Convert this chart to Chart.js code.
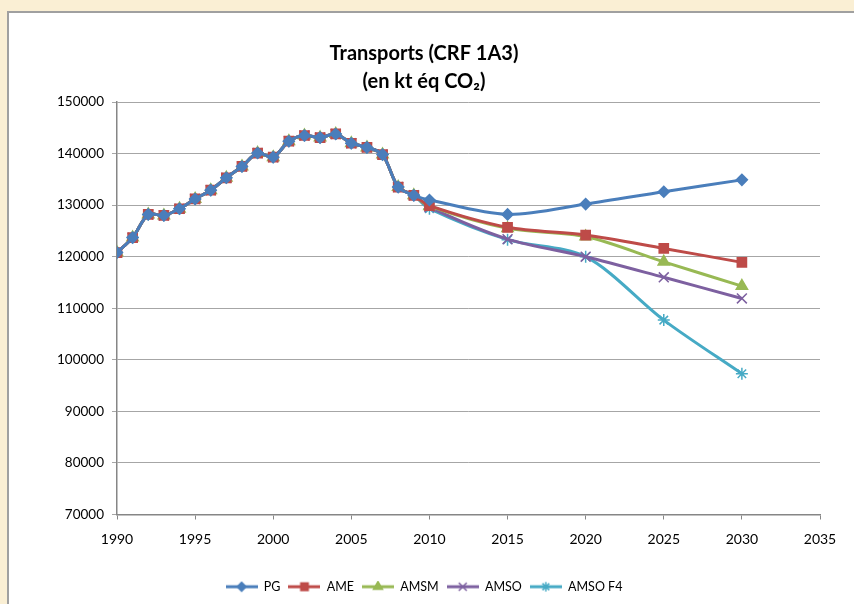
<!DOCTYPE html>
<html>
<head>
<meta charset="utf-8">
<script src="https://cdn.jsdelivr.net/npm/chart.js@4/dist/chart.umd.min.js"></script>
<style>
html,body{margin:0;padding:0;background:#FAEFD4;}
#wrap{position:absolute;left:0;top:0;width:854px;height:604px;}
</style>
</head>
<body>
<div id="wrap"><canvas id="c" width="854" height="604"></canvas></div>
<script>
const histYears = [1990,1991,1992,1993,1994,1995,1996,1997,1998,1999,2000,2001,2002,2003,2004,2005,2006,2007,2008,2009];
const histValues = [120800,123700,128200,128000,129300,131200,132900,135300,137500,140100,139300,142400,143500,143100,143800,142000,141200,139800,133500,131900];
const projYears = [2010,2015,2020,2025,2030];
const pgValues = [131000,128200,130200,132600,134900];
const ameValues = [129900,125700,124200,121600,118900];
const amsmValues = [129800,125500,123900,119000,114300];
const amsoValues = [129600,123400,120000,116000,111900];
const amsoF4Values = [129300,123300,120000,107700,97300];
const seriesNames = ['PG','AME','AMSM','AMSO','AMSO F4'];
const xTicks = [1990,1995,2000,2005,2010,2015,2020,2025,2030,2035];

const colors = ['#4A7EBB','#BE4B48','#98B954','#7D60A0','#46AAC5'];
const styles = ['rectRot','rect','triangle','crossRot','star'];
const radii = [5.5,6.5,6.5,7,6];
const projections = [pgValues,ameValues,amsmValues,amsoValues,amsoF4Values];

function buildData(proj){
  const pts = histYears.map((y,i)=>({x:y,y:histValues[i]}));
  projYears.forEach((y,i)=>pts.push({x:y,y:proj[i]}));
  return pts;
}

function legendIcon(i){
  const cv = document.createElement('canvas');
  cv.width = 32; cv.height = 12;
  const ctx = cv.getContext('2d');
  ctx.strokeStyle = colors[i]; ctx.fillStyle = colors[i]; ctx.lineWidth = 3;
  ctx.beginPath(); ctx.moveTo(0,6); ctx.lineTo(32,6); ctx.stroke();
  ctx.lineWidth = 1.5;
  Chart.helpers.drawPoint(ctx,{pointStyle:styles[i],radius:radii[i]*0.8,borderWidth:1.5,rotation:0},16,6);
  ctx.fill();
  return cv;
}

const datasets = seriesNames.map((n,i)=>({
  label:n,
  data:buildData(projections[i]),
  borderColor:colors[i],
  backgroundColor:colors[i],
  borderWidth:3,
  pointStyle:styles[i],
  pointRadius:radii[i],
  pointBorderWidth:1.5,
  pointBorderColor:colors[i],
  pointBackgroundColor:colors[i],
  tension:0.3,
  fill:false
}));

const bgPlugin = {
  id:'bg',
  beforeDraw(chart){
    const ctx = chart.ctx;
    ctx.save();
    ctx.fillStyle = '#FAEFD4';
    ctx.fillRect(0,0,854,604);
    ctx.fillStyle = '#FFFFFF';
    ctx.fillRect(8,12,846,592);
    ctx.strokeStyle = '#A0A0A0';
    ctx.lineWidth = 2;
    ctx.beginPath();
    ctx.moveTo(8,604); ctx.lineTo(8,12); ctx.lineTo(854,12);
    ctx.stroke();
    ctx.restore();
  }
};

const icons = seriesNames.map((n,i)=>legendIcon(i));

new Chart(document.getElementById('c'),{
  type:'line',
  data:{datasets},
  plugins:[bgPlugin],
  options:{
    responsive:false,
    animation:false,
    layout:{padding:{left:28,right:34,top:11,bottom:1}},
    plugins:{
      title:{
        display:true,
        text:['Transports (CRF 1A3)','(en kt éq CO₂)'],
        color:'#000',
        font:{family:'Lato',size:20,weight:'bold',lineHeight:1.4},
        padding:{top:29,bottom:6}
      },
      legend:{
        position:'bottom',
        labels:{
          color:'#000',
          font:{family:'Lato',size:12.5},
          usePointStyle:true,
          pointStyleWidth:32,
          boxHeight:12,
          padding:8,
          generateLabels(chart){
            return seriesNames.map((n,i)=>({
              text:n, pointStyle:icons[i], fillStyle:colors[i], strokeStyle:colors[i],
              lineWidth:0, hidden:false, datasetIndex:i, fontColor:'#000'
            }));
          }
        }
      },
      tooltip:{enabled:false}
    },
    scales:{
      x:{
        type:'linear',
        min:1990,max:2035,
        afterBuildTicks(s){ s.ticks = xTicks.map(v=>({value:v})); },
        afterFit(s){ s.height = 58; },
        grid:{drawOnChartArea:false,drawTicks:true,tickLength:5,color:'#868686'},
        border:{color:'#868686',width:1.5},
        ticks:{color:'#000',font:{family:'Lato',size:14},padding:12,maxRotation:0,callback:v=>String(v)}
      },
      y:{
        min:70000,max:150000,
        ticks:{stepSize:10000,color:'#000',font:{family:'Lato',size:13.5},padding:8,callback:v=>String(v)},
        afterFit(s){ s.width = 89; },
        grid:{color:'#A6A6A6',lineWidth:1,tickLength:5},
        border:{color:'#868686',width:1.5}
      }
    }
  }
});
</script>
</body>
</html>
